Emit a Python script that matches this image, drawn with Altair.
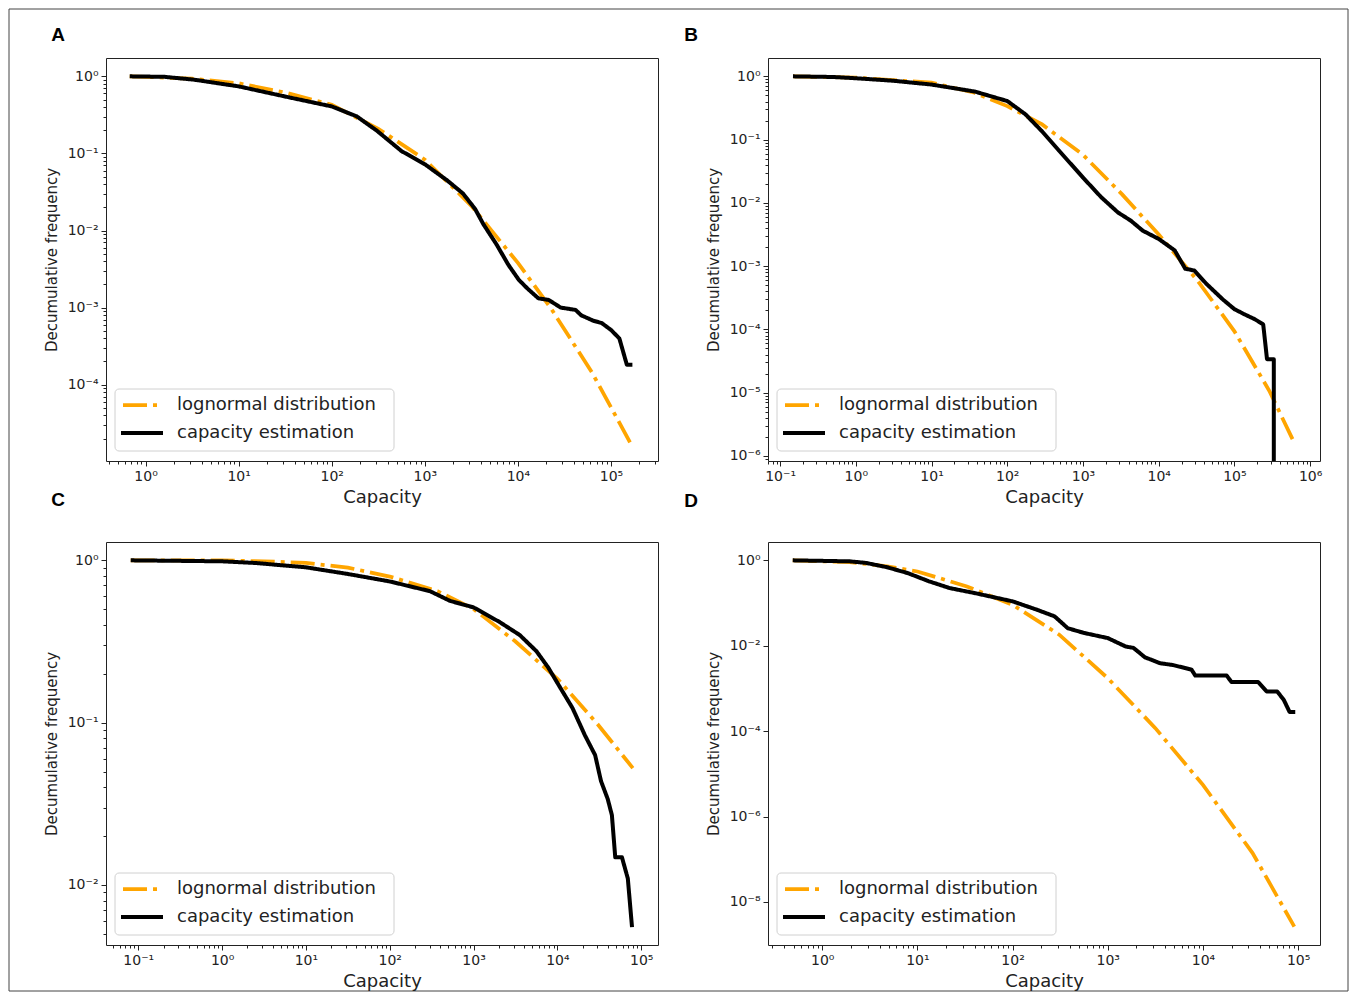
import altair as alt
import numpy as np
import pandas as pd

SERIES = ["lognormal distribution", "capacity estimation"]
COLORS = ["#FFA500", "#000000"]
DASHES = [[24, 6, 4, 6], [1, 0]]

# All values are log10 of the quantities.
# ---- Panel A ----
A_logn_lx = [-0.17, 0.5, 1.0, 1.5, 2.0, 2.5, 3.0, 3.5, 4.0, 4.35, 4.8, 5.21]
A_logn_ly = [0.0, -0.03, -0.09, -0.21, -0.37, -0.68, -1.08, -1.68, -2.42, -3.0, -3.85, -4.76]
A_cap_lx = [-0.17, 0.2, 0.52, 1.0, 1.57, 2.0, 2.27, 2.49, 2.75, 3.0, 3.24, 3.41, 3.54, 3.63, 3.77,
            3.9, 4.01, 4.1, 4.22, 4.33, 4.46, 4.62, 4.68, 4.81, 4.9, 5.0, 5.09, 5.13, 5.17, 5.23]
A_cap_ly = [0.0, -0.006, -0.043, -0.13, -0.28, -0.39, -0.52, -0.71, -0.97, -1.14, -1.35, -1.52, -1.72,
            -1.92, -2.18, -2.45, -2.64, -2.75, -2.88, -2.9, -3.0, -3.03, -3.1, -3.17, -3.2, -3.29,
            -3.4, -3.57, -3.74, -3.74]

# ---- Panel B ----
B_logn_lx = [-0.83, 0.0, 1.0, 1.57, 2.0, 2.46, 3.0, 3.52, 4.0, 4.52, 5.0, 5.46, 5.79]
B_logn_ly = [0.0, -0.02, -0.1, -0.26, -0.47, -0.76, -1.24, -1.87, -2.5, -3.24, -4.03, -4.97, -5.79]
B_cap_lx = [-0.83, -0.3, 0.0, 0.5, 1.0, 1.57, 2.0, 2.24, 2.46, 2.68, 3.0, 3.24, 3.46, 3.63, 3.79,
            4.0, 4.21, 4.35, 4.47, 4.63, 4.85, 5.0, 5.13, 5.27, 5.38, 5.43, 5.52, 5.52]
B_cap_ly = [0.0, -0.01, -0.03, -0.07, -0.13, -0.24, -0.39, -0.6, -0.87, -1.17, -1.6, -1.91, -2.15,
            -2.28, -2.44, -2.57, -2.75, -3.04, -3.07, -3.28, -3.53, -3.68, -3.76, -3.84, -3.92,
            -4.47, -4.47, -7.0]

# ---- Panel C ----
C_logn_lx = [-1.09, 0.0, 0.5, 1.0, 1.5, 2.0, 2.57, 3.0, 3.5, 4.0, 4.48, 4.9]
C_logn_ly = [0.0, 0.0, -0.006, -0.016, -0.045, -0.1, -0.19, -0.3, -0.5, -0.73, -1.01, -1.28]
C_cap_lx = [-1.09, 0.0, 0.39, 1.0, 1.5, 2.0, 2.48, 2.72, 3.0, 3.31, 3.55, 3.75, 3.89, 4.04, 4.18,
            4.33, 4.45, 4.52, 4.6, 4.65, 4.69, 4.77, 4.84, 4.89]
C_cap_ly = [0.0, -0.006, -0.016, -0.043, -0.084, -0.13, -0.19, -0.25, -0.29, -0.38, -0.46, -0.56,
            -0.66, -0.79, -0.91, -1.08, -1.2, -1.36, -1.47, -1.57, -1.83, -1.83, -1.96, -2.26]

# ---- Panel D ----
D_logn_lx = [-0.31, 0.29, 0.68, 1.0, 1.52, 2.0, 2.49, 3.0, 3.5, 4.0, 4.52, 4.96]
D_logn_ly = [0.0, -0.04, -0.14, -0.26, -0.61, -1.04, -1.74, -2.76, -3.93, -5.26, -6.85, -8.58]
D_cap_lx = [-0.31, 0.29, 0.46, 0.68, 0.9, 1.12, 1.34, 1.61, 2.0, 2.26, 2.44, 2.58, 2.75, 3.0, 3.19,
            3.27, 3.39, 3.55, 3.68, 3.81, 3.88, 3.92, 4.25, 4.3, 4.58, 4.67, 4.78, 4.85, 4.91, 4.97]
D_cap_ly = [0.0, -0.023, -0.06, -0.16, -0.3, -0.49, -0.65, -0.77, -0.96, -1.16, -1.31, -1.59, -1.7,
            -1.82, -2.02, -2.05, -2.27, -2.41, -2.45, -2.52, -2.56, -2.7, -2.7, -2.85, -2.85, -3.07,
            -3.07, -3.27, -3.55, -3.55]

# axis limits (log10)
A_xdom, A_ydom = (-0.425, 5.505), (-4.99, 0.238)
B_xdom, B_ydom = (-1.16, 6.13), (-6.08, 0.29)
C_xdom, C_ydom = (-1.385, 5.2), (-2.37, 0.113)
D_xdom, D_ydom = (-0.57, 5.23), (-9.01, 0.43)

W, H = 552, 403
TXT = "#222222"


def tick_values(dom, minor=True, step=1):
    vals = []
    for k in range(int(np.floor(dom[0])) - 1, int(np.ceil(dom[1])) + 1):
        if k % step == 0:
            vals.append(float(10.0 ** k))
        if minor:
            for m in range(2, 10):
                vals.append(float(m * 10.0 ** k))
    lo, hi = 10 ** dom[0], 10 ** dom[1]
    return [v for v in vals if lo <= v <= hi]


E = "round(log(datum.value)/LN10)"
IS_MAJOR = f"abs(log(datum.value)/LN10 - {E}) < 0.01"
SUP = "['\u2070','\u00b9','\u00b2','\u00b3','\u2074','\u2075','\u2076','\u2077','\u2078','\u2079']"
LABEL_EXPR = f"{IS_MAJOR} ? '10' + ({E} < 0 ? '\u207b' : '') + {SUP}[abs({E})] : ''"
TICK_SIZE = {"condition": {"test": IS_MAJOR, "value": 5}, "value": 3}


def axis_common():
    return dict(labelExpr=LABEL_EXPR, tickSize=TICK_SIZE, labelFontSize=14,
                labelFont="DejaVu Sans", labelColor=TXT, tickColor=TXT, tickWidth=1,
                labelPadding=3, grid=False, domain=False, labelOverlap=False,
                labelFlush=False, titleFont="DejaVu Sans", titleFontWeight="normal",
                titleColor=TXT, titleAlign="center", titleBaseline="middle")


def legend_layers():
    one = pd.DataFrame({"a": [0]})
    box = alt.Chart(one).mark_rect(fill="white", fillOpacity=0.85, stroke="#d0d0d0",
                                   strokeWidth=1, cornerRadius=4, clip=False).encode(
        x=alt.value(9), x2=alt.value(288), y=alt.value(331), y2=alt.value(393))
    sw_l = alt.Chart(one).mark_rule(color=COLORS[0], strokeWidth=3.75, strokeDash=DASHES[0],
                                    strokeCap="butt").encode(
        x=alt.value(17), x2=alt.value(56), y=alt.value(347))
    sw_c = alt.Chart(one).mark_rule(color=COLORS[1], strokeWidth=4, strokeCap="butt").encode(
        x=alt.value(15), x2=alt.value(57), y=alt.value(375))
    t_l = alt.Chart(one).mark_text(text=SERIES[0], font="DejaVu Sans", fontSize=18, color=TXT,
                                   align="left", baseline="middle").encode(
        x=alt.value(71), y=alt.value(347))
    t_c = alt.Chart(one).mark_text(text=SERIES[1], font="DejaVu Sans", fontSize=18, color=TXT,
                                   align="left", baseline="middle").encode(
        x=alt.value(71), y=alt.value(375))
    return [box, sw_l, sw_c, t_l, t_c]


def panel(letter, lpos, logn_lx, logn_ly, cap_lx, cap_ly, xdom, ydom, xticks, yticks, border=False):
    df_l = pd.DataFrame({"x": np.power(10.0, logn_lx), "y": np.power(10.0, logn_ly),
                         "series": SERIES[0], "i": np.arange(len(logn_lx))})
    df_c = pd.DataFrame({"x": np.power(10.0, cap_lx), "y": np.power(10.0, cap_ly),
                         "series": SERIES[1], "i": np.arange(len(cap_lx))})
    color = alt.Color("series:N", scale=alt.Scale(domain=SERIES, range=COLORS), legend=None)
    dash = alt.StrokeDash("series:N", scale=alt.Scale(domain=SERIES, range=DASHES), legend=None)
    xenc = alt.X("x:Q", scale=alt.Scale(type="log", domain=[10 ** xdom[0], 10 ** xdom[1]], nice=False),
                 axis=alt.Axis(values=xticks, title="Capacity", titleFontSize=18,
                               titleX=W / 2, titleY=36, **axis_common()))
    yenc = alt.Y("y:Q", scale=alt.Scale(type="log", domain=[10 ** ydom[0], 10 ** ydom[1]], nice=False),
                 axis=alt.Axis(values=yticks, title="Decumulative frequency", titleFontSize=15,
                               titleX=-55, titleY=H / 2, titleAngle=270, **axis_common()))
    l1 = alt.Chart(df_l).mark_line(clip=True, strokeWidth=3.75, strokeCap="butt").encode(
        x=xenc, y=yenc, color=color, strokeDash=dash, order="i:Q")
    l2 = alt.Chart(df_c).mark_line(clip=True, strokeWidth=4, strokeJoin="round").encode(
        x=xenc, y=yenc, color=color, strokeDash=dash, order="i:Q")
    one = pd.DataFrame({"a": [0]})
    txt = alt.Chart(one).mark_text(text=letter, font="Liberation Sans", fontWeight="bold",
                                   fontSize=19, align="center", baseline="middle",
                                   color="black", clip=False).encode(
        x=alt.value(lpos[0]), y=alt.value(lpos[1]))
    layers = [l1, l2] + legend_layers() + [txt]
    if border:
        rect = alt.Chart(one).mark_rect(fillOpacity=0, stroke="#444444", strokeWidth=1,
                                        clip=False).encode(
            x=alt.value(-97), x2=alt.value(1242), y=alt.value(-49), y2=alt.value(933))
        layers = [rect] + layers
    return alt.layer(*layers).properties(width=W, height=H)


pA = panel("A", (-48, -23), A_logn_lx, A_logn_ly, A_cap_lx, A_cap_ly, A_xdom, A_ydom,
           tick_values(A_xdom), tick_values(A_ydom), border=True)
pB = panel("B", (-77, -23), B_logn_lx, B_logn_ly, B_cap_lx, B_cap_ly, B_xdom, B_ydom,
           tick_values(B_xdom), tick_values(B_ydom))
pC = panel("C", (-48, -42), C_logn_lx, C_logn_ly, C_cap_lx, C_cap_ly, C_xdom, C_ydom,
           tick_values(C_xdom), tick_values(C_ydom))
pD = panel("D", (-77, -41), D_logn_lx, D_logn_ly, D_cap_lx, D_cap_ly, D_xdom, D_ydom,
           tick_values(D_xdom), tick_values(D_ydom, minor=False, step=2))

chart = alt.concat(pA, pB, pC, pD, columns=2, spacing={"row": 81, "column": 110},
                   bounds="flush").resolve_scale(
    color="independent", strokeDash="independent").configure_view(
    stroke=TXT, strokeWidth=1).properties(padding=0)

chart.save("out.html", embed_options={"renderer": "svg", "actions": False})
